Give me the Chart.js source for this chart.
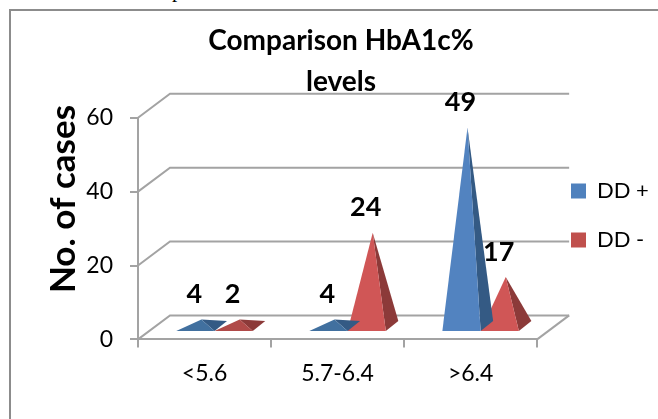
<!DOCTYPE html>
<html>
<head>
<meta charset="utf-8">
<title>Comparison HbA1c% levels</title>
<script src="https://cdn.jsdelivr.net/npm/chart.js@4/dist/chart.umd.js"></script>
<style>
    html, body { margin: 0; padding: 0; background: #fff; }
    #wrap { position: relative; width: 658px; height: 419px; overflow: hidden; }
    #frame { position: absolute; left: 9px; top: 9px; right: 0; bottom: 0; border-left: 2px solid #8c8c8c; border-top: 2px solid #8c8c8c; }
    #cut { position: absolute; left: 172px; top: -20px; font: 21px/20px "Liberation Serif", serif; color: #000; }
    canvas { position: absolute; left: 0; top: 0; }
</style>
</head>
<body>
<div id="wrap">
    <div id="cut">p</div>
    <div id="frame"></div>
    <canvas id="chart" width="658" height="419"></canvas>
</div>
<script>
// DATA
const categories = ['<5.6', '5.7-6.4', '>6.4'];
const seriesNames = ['DD +', 'DD -'];
// heights as drawn against the axis; the typed labels in the original do not follow them
const ddPlus = [2, 2, 54];
const ddMinus = [2, 25.5, 13.5];
const ddPlusLabels = ['4', '4', '49'];
const ddMinusLabels = ['2', '24', '17'];
const yTicks = [0, 20, 40, 60];
const yAxisTitle = 'No. of cases';

// STYLE
const FONT = 'Lato, "Open Sans", sans-serif';
const GRID = '#a3a3a3';
const DEPTH_X = 32, DEPTH_Y = 24;   // back wall offset
const faces = {
    '#4f81bd': { front: '#5283c0', flat: '#41709f', side: '#345a84' },
    '#c0504d': { front: '#d05656', flat: '#b04a48', side: '#8c3a39' }
};

// --- PYRAMID BARS ---
class PyramidElement extends Chart.BarElement {
    draw(ctx) {
        const { x, y, base, width } = this.getProps(['x', 'y', 'base', 'width']);
        const face = faces[this.options.backgroundColor];
        const left = x - width / 2 + 10, right = x + width / 2 + 10;
        const baseY = base - 7.5;
        const apexX = (left + right) / 2 + 6, apexY = y - 12.5;
        ctx.save();
        // side face first, front face over it
        ctx.fillStyle = face.side;
        ctx.beginPath();
        ctx.moveTo(right, baseY);
        ctx.lineTo(right + 12.5, baseY - 10);
        ctx.lineTo(apexX, apexY);
        ctx.closePath();
        ctx.fill();
        ctx.fillStyle = baseY - apexY < 25 ? face.flat : face.front;
        ctx.beginPath();
        ctx.moveTo(left, baseY);
        ctx.lineTo(right, baseY);
        ctx.lineTo(apexX, apexY);
        ctx.closePath();
        ctx.fill();
        ctx.restore();
    }
}
PyramidElement.id = 'pyramid';

class PyramidController extends Chart.BarController {}
PyramidController.id = 'pyramid';
PyramidController.defaults = { ...Chart.BarController.defaults, dataElementType: 'pyramid' };
PyramidController.overrides = Chart.BarController.overrides;

Chart.register(PyramidElement, PyramidController);

// --- 3D WALLS, FLOOR AND VALUE LABELS ---
const wallsPlugin = {
    id: 'walls',
    afterLayout(chart) {
        // the original has title and legend off-centre
        chart.legend.left = 544;
        chart.legend.top = 32;
        chart.titleBlock.left -= 8;
        chart.titleBlock.right -= 8;
    },
    beforeDatasetsDraw(chart) {
        const { ctx, scales: { x, y } } = chart;
        ctx.save();
        ctx.strokeStyle = GRID;
        ctx.lineWidth = 2;
        yTicks.forEach(t => {
            const py = y.getPixelForValue(t);
            ctx.beginPath();
            ctx.moveTo(x.left, py);
            ctx.lineTo(x.left + DEPTH_X, py - DEPTH_Y);
            ctx.lineTo(x.right + DEPTH_X, py - DEPTH_Y);
            ctx.stroke();
        });
        // right edge of the floor
        ctx.beginPath();
        ctx.moveTo(x.right, y.bottom);
        ctx.lineTo(x.right + DEPTH_X, y.bottom - DEPTH_Y);
        ctx.stroke();
        ctx.restore();
    },
    afterDatasetsDraw(chart) {
        const { ctx } = chart;
        const texts = [ddPlusLabels, ddMinusLabels];
        ctx.save();
        ctx.fillStyle = '#000';
        ctx.font = 'bold 27px ' + FONT;
        ctx.textAlign = 'center';
        ctx.textBaseline = 'middle';
        texts.forEach((list, i) => {
            chart.getDatasetMeta(i).data.forEach((bar, j) => {
                ctx.fillText(list[j], bar.x + 9, bar.y - 37.5);
            });
        });
        // axis title sits above the middle of the axis, so not the scale's own title
        ctx.translate(64, 199);
        ctx.rotate(-Math.PI / 2);
        ctx.font = 'bold 35px ' + FONT;
        ctx.fillText(yAxisTitle, 0, 0);
        ctx.restore();
    }
};

// --- CHART ---
new Chart(document.getElementById('chart'), {
    type: 'pyramid',
    data: {
        labels: categories,
        datasets: [
            { label: seriesNames[0], data: ddPlus, backgroundColor: '#4f81bd', barPercentage: 1, categoryPercentage: 0.575 },
            { label: seriesNames[1], data: ddMinus, backgroundColor: '#c0504d', barPercentage: 1, categoryPercentage: 0.575 }
        ]
    },
    options: {
        responsive: false,
        animation: false,
        layout: { padding: { left: 46, right: 6, top: 21, bottom: 20 } },
        plugins: {
            title: {
                display: true,
                text: ['Comparison HbA1c%', 'levels'],
                color: '#000',
                font: { family: FONT, size: 28, weight: 'bold', lineHeight: 1.46 },
                padding: { top: 0, bottom: 15 }
            },
            legend: {
                position: 'right',
                labels: { boxWidth: 15, boxHeight: 15, padding: 27, color: '#000', font: { family: FONT, size: 22 } }
            },
            tooltip: { enabled: false }
        },
        scales: {
            x: {
                grid: { drawOnChartArea: false, color: GRID, lineWidth: 2, tickLength: 8 },
                border: { color: GRID, width: 2 },
                ticks: { color: '#000', padding: 12, font: { family: FONT, size: 23 }, maxRotation: 0 }
            },
            y: {
                min: 0,
                max: 60,
                afterBuildTicks(axis) { axis.ticks = yTicks.map(v => ({ value: v })); },
                afterFit(axis) { axis.width = 92; },
                grid: { drawOnChartArea: false, color: GRID, lineWidth: 2, tickLength: 8 },
                border: { color: GRID, width: 2 },
                ticks: { color: '#000', padding: 17, font: { family: FONT, size: 23 } }
            }
        }
    },
    plugins: [wallsPlugin]
});
</script>
</body>
</html>
